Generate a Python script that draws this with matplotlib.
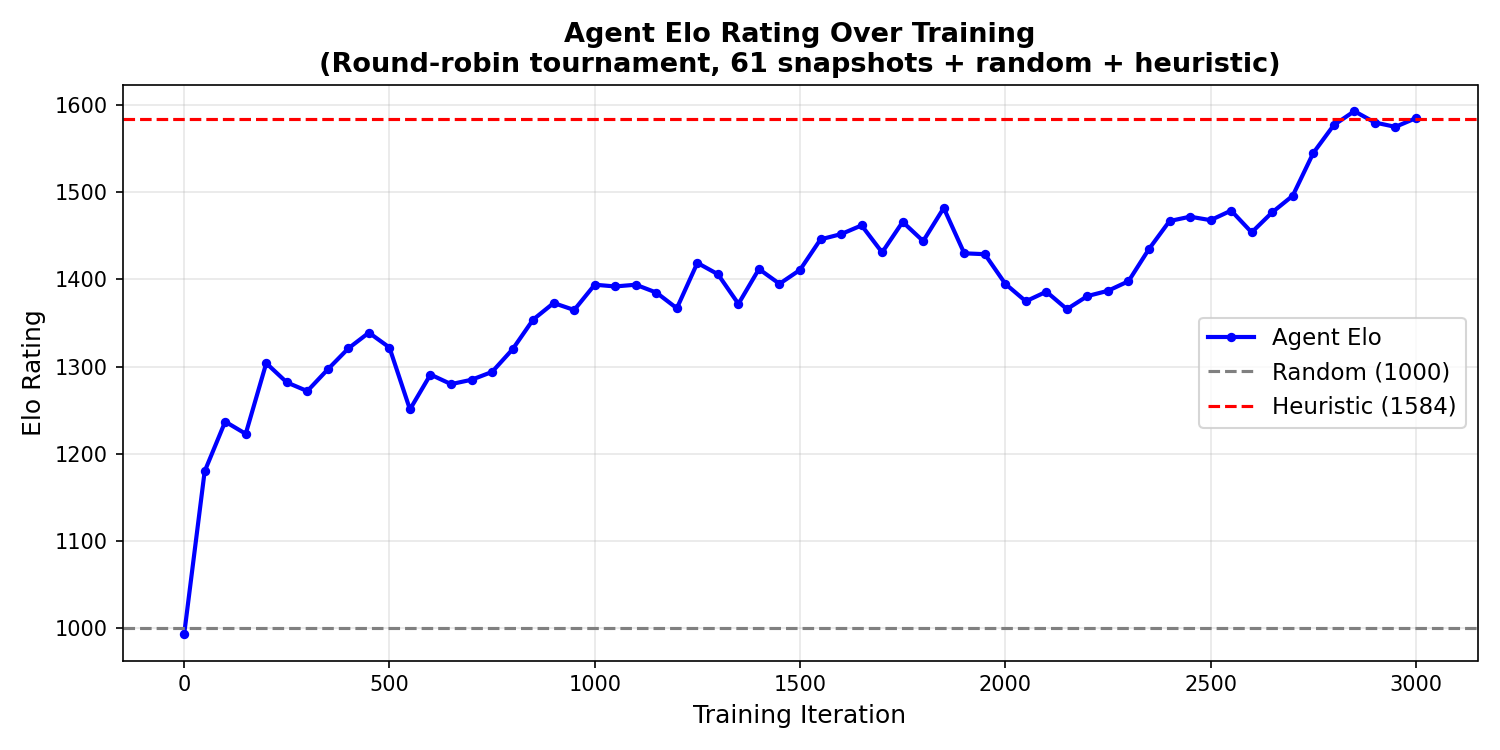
import matplotlib
matplotlib.use("Agg")
import matplotlib.pyplot as plt

iterations = list(range(0, 3001, 50))
elo = [993, 1180, 1237, 1223, 1304, 1282, 1272, 1297, 1321, 1339,
       1322, 1251, 1291, 1280, 1285, 1294, 1320, 1354, 1373, 1365,
       1394, 1392, 1394, 1385, 1367, 1419, 1406, 1372, 1412, 1395,
       1411, 1446, 1452, 1462, 1431, 1466, 1444, 1482, 1430, 1429,
       1395, 1375, 1386, 1366, 1381, 1387, 1398, 1435, 1467, 1472,
       1468, 1479, 1454, 1477, 1496, 1545, 1577, 1593, 1580, 1575,
       1585]
random_elo = 1000
heuristic_elo = 1584

fig, ax = plt.subplots(figsize=(10, 5), dpi=150)
ax.plot(iterations, elo, color='blue', linewidth=2, marker='o', markersize=3.5, label='Agent Elo')
ax.axhline(random_elo, color='gray', linestyle='--', linewidth=1.5, label=f'Random ({random_elo})')
ax.axhline(heuristic_elo, color='red', linestyle='--', linewidth=1.5, label=f'Heuristic ({heuristic_elo})')
ax.set_xlabel('Training Iteration', fontsize=12)
ax.set_ylabel('Elo Rating', fontsize=12)
ax.set_title('Agent Elo Rating Over Training\n(Round-robin tournament, 61 snapshots + random + heuristic)',
             fontsize=13, fontweight='bold')
ax.grid(True, alpha=0.3)
ax.legend(fontsize=11, loc='center right')
fig.tight_layout()
fig.savefig('out.png', dpi=150)
